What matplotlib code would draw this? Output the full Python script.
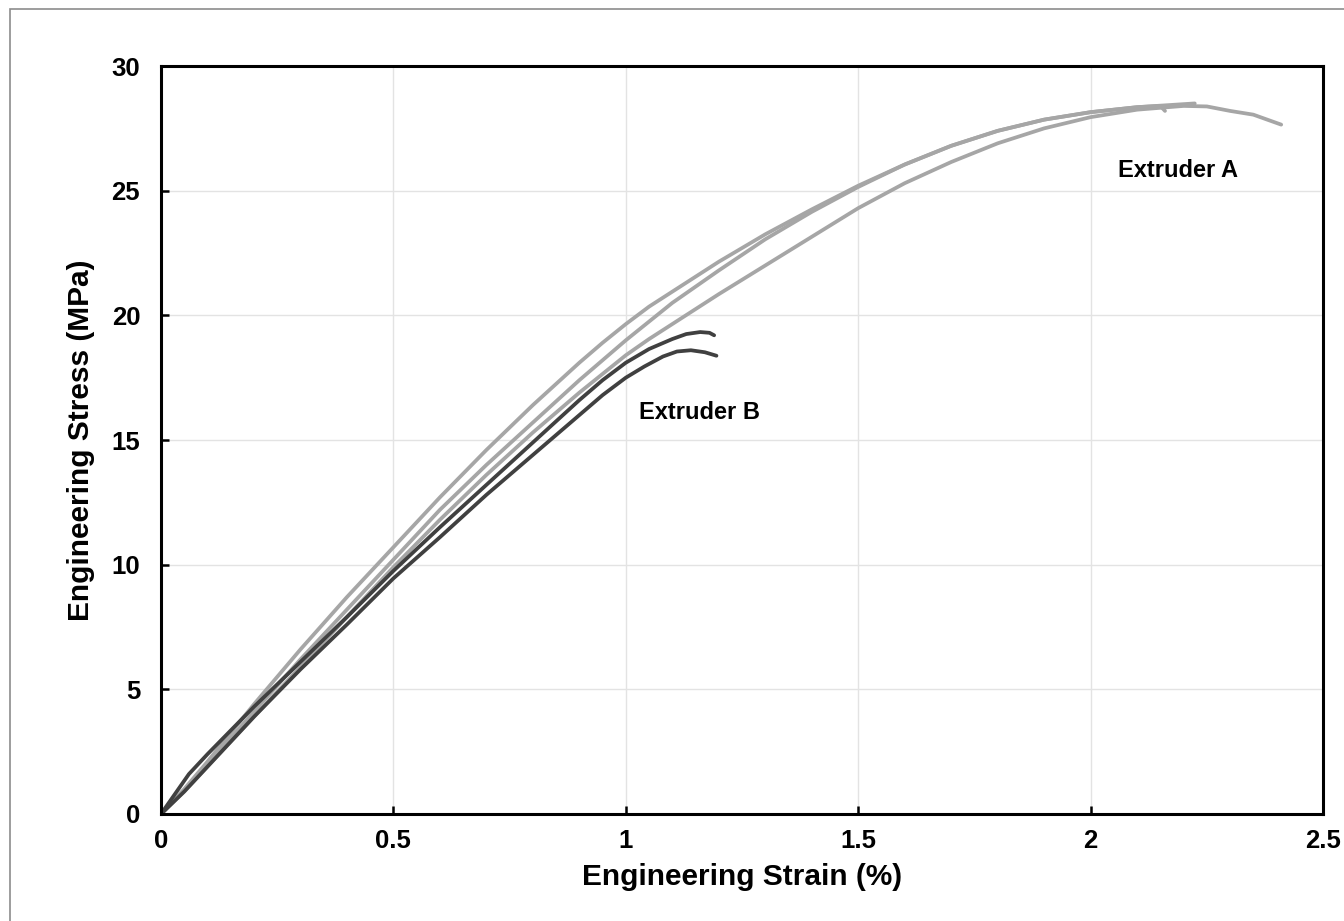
import numpy as np
import matplotlib.pyplot as plt
from matplotlib.patches import Rectangle

# Extruder A specimens (strain %, stress MPa)
strain_a1 = [0, 0.05, 0.1, 0.2, 0.3, 0.4, 0.5, 0.6, 0.7, 0.8, 0.9, 0.95, 1.0,
             1.05, 1.1, 1.2, 1.3, 1.4, 1.5, 1.6, 1.7, 1.8, 1.9, 2.0, 2.1,
             2.15, 2.16]
stress_a1 = [0, 1.0, 2.1, 4.4, 6.6, 8.7, 10.7, 12.7, 14.6, 16.4, 18.1, 18.9,
             19.65, 20.35, 20.95, 22.15, 23.25, 24.25, 25.2, 26.05, 26.8, 27.4,
             27.85, 28.15, 28.35, 28.4, 28.2]
strain_a2 = [0, 0.05, 0.1, 0.2, 0.3, 0.4, 0.5, 0.6, 0.7, 0.8, 0.9, 0.95, 1.0,
             1.05, 1.1, 1.2, 1.3, 1.4, 1.5, 1.6, 1.7, 1.8, 1.9, 2.0, 2.1,
             2.224]
stress_a2 = [0, 0.95, 2.0, 4.1, 6.2, 8.2, 10.2, 12.2, 14.0, 15.7, 17.4, 18.2,
             19.0, 19.75, 20.5, 21.8, 23.05, 24.15, 25.15, 26.05, 26.8, 27.4,
             27.85, 28.15, 28.35, 28.5]
strain_a3 = [0, 0.05, 0.1, 0.2, 0.3, 0.4, 0.5, 0.6, 0.7, 0.8, 0.9, 0.95, 1.0,
             1.05, 1.1, 1.2, 1.3, 1.4, 1.5, 1.6, 1.7, 1.8, 1.9, 2.0, 2.1, 2.2,
             2.25, 2.3, 2.35, 2.41]
stress_a3 = [0, 0.9, 1.9, 3.9, 5.9, 7.9, 9.9, 11.8, 13.6, 15.3, 16.9, 17.65,
             18.4, 19.05, 19.65, 20.85, 22.0, 23.15, 24.3, 25.3, 26.15, 26.9,
             27.5, 27.95, 28.25, 28.4, 28.38, 28.2, 28.05, 27.65]

# Extruder B specimens
strain_b1 = [0, 0.03, 0.06, 0.1, 0.2, 0.3, 0.4, 0.5, 0.6, 0.7, 0.8, 0.9, 0.95,
             1.0, 1.05, 1.1, 1.13, 1.16, 1.18, 1.19]
stress_b1 = [0, 0.8, 1.6, 2.4, 4.3, 6.1, 7.9, 9.75, 11.5, 13.2, 14.9, 16.6,
             17.4, 18.1, 18.65, 19.05, 19.25, 19.33, 19.3, 19.2]
strain_b2 = [0, 0.05, 0.1, 0.2, 0.3, 0.4, 0.5, 0.6, 0.7, 0.8, 0.9, 0.95, 1.0,
             1.04, 1.08, 1.11, 1.14, 1.17, 1.195]
stress_b2 = [0, 0.9, 1.9, 3.9, 5.8, 7.6, 9.45, 11.1, 12.8, 14.4, 16.0, 16.8,
             17.5, 17.95, 18.35, 18.55, 18.6, 18.52, 18.38]

x_ticks = [0, 0.5, 1, 1.5, 2, 2.5]
x_tick_labels = ['0', '0.5', '1', '1.5', '2', '2.5']
y_ticks = [0, 5, 10, 15, 20, 25, 30]

plt.rcParams['font.family'] = ['Liberation Sans', 'DejaVu Sans']
plt.rcParams['font.weight'] = 'bold'

fig = plt.figure(figsize=(13.44, 9.21), dpi=100)
ax = fig.add_axes([0.1198, 0.1162, 0.8646, 0.8121])

# thin frame around the chart (only top/left edges fall inside the image)
fig.patches.append(Rectangle((10 / 1344, -0.1), 1.2, 1.0 - 9 / 921 + 0.1,
                             transform=fig.transFigure, fill=False,
                             edgecolor='#8c8c8c', linewidth=1.2))

grey_a = '#a6a6a6'
grey_b = '#404040'
for s, t in [(strain_a3, stress_a3), (strain_a2, stress_a2),
             (strain_a1, stress_a1)]:
    ax.plot(s, t, color=grey_a, linewidth=2.7, solid_capstyle='round',
            solid_joinstyle='round')
for s, t in [(strain_b1, stress_b1), (strain_b2, stress_b2)]:
    ax.plot(s, t, color=grey_b, linewidth=2.7, solid_capstyle='round',
            solid_joinstyle='round')

ax.set_xlim(0, 2.5)
ax.set_ylim(0, 30)
ax.set_xticks(x_ticks)
ax.set_xticklabels(x_tick_labels)
ax.set_yticks(y_ticks)
ax.grid(True, color='#e3e3e3', linewidth=1.0)
ax.set_axisbelow(True)

for spine in ax.spines.values():
    spine.set_linewidth(2.2)
    spine.set_color('black')

ax.tick_params(axis='both', direction='in', length=6, width=1.8,
               labelsize=18.5)
ax.tick_params(axis='x', pad=11)
ax.tick_params(axis='y', pad=15)
for lab in ax.get_xticklabels() + ax.get_yticklabels():
    lab.set_fontweight('bold')

ax.set_xlabel('Engineering Strain (%)', fontsize=21.5, fontweight='bold',
              labelpad=7)
ax.set_ylabel('Engineering Stress (MPa)', fontsize=21.5, fontweight='bold',
              labelpad=12)

ax.text(2.058, 25.8, 'Extruder A', fontsize=17, fontweight='bold',
        ha='left', va='center')
ax.text(1.028, 16.1, 'Extruder B', fontsize=17, fontweight='bold',
        ha='left', va='center')

fig.savefig('out.png', dpi=100)
plt.close(fig)
